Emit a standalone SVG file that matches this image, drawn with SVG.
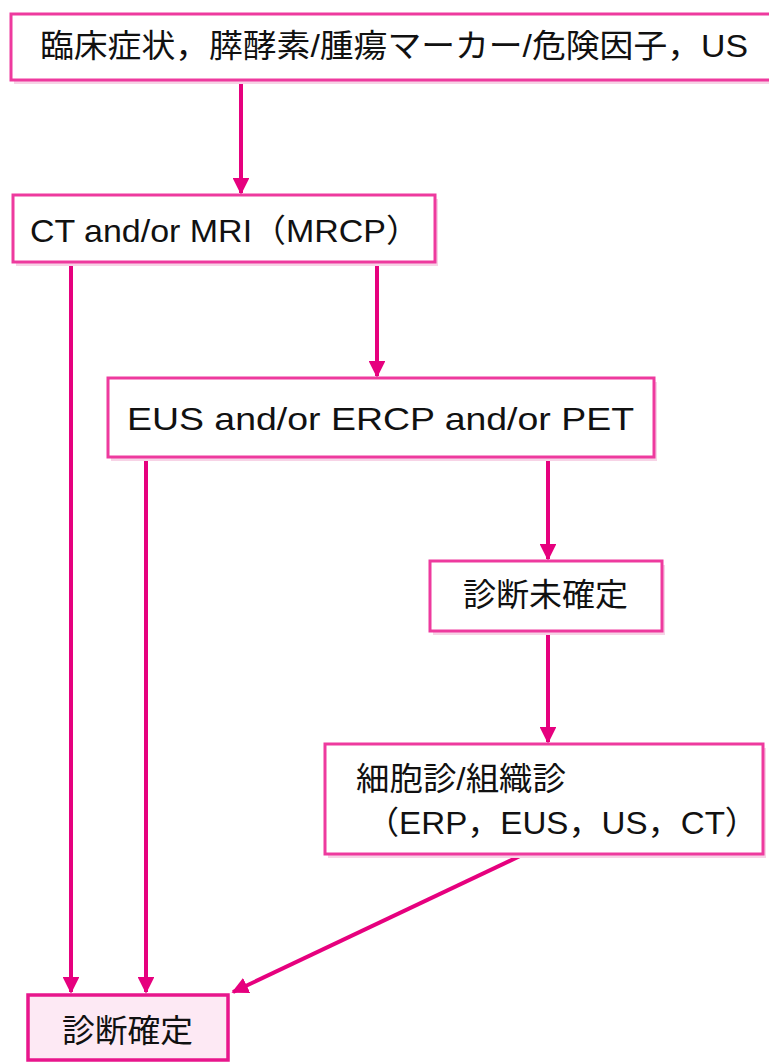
<svg xmlns="http://www.w3.org/2000/svg" width="769" height="1063" viewBox="0 0 769 1063">
<defs>
<style>
.box{fill:#fff;stroke:#ee3a9e;stroke-width:3}
.fin{fill:#fde9f4;stroke:#e8168c;stroke-width:3.5}
.sh{fill:#f7d3e6}
.t{font-family:"Liberation Sans","Noto Sans CJK JP",sans-serif;font-size:32px;fill:#111}
.c{stroke:#e6007e;stroke-width:4;fill:none}
</style>
<marker id="ah" viewBox="0 0 10 10" refX="9" refY="5" markerWidth="4.2" markerHeight="4.2" orient="auto" markerUnits="strokeWidth">
<path d="M0,0 L10,5 L0,10 z" fill="#e6007e"/>
</marker>
</defs>
<rect width="769" height="1063" fill="#fff"/>
<g id="connectors">
<line class="c" x1="241" y1="81" x2="241" y2="193" marker-end="url(#ah)"/>
<line class="c" x1="71" y1="263" x2="71" y2="992" marker-end="url(#ah)"/>
<line class="c" x1="377" y1="263" x2="377" y2="376" marker-end="url(#ah)"/>
<line class="c" x1="146" y1="458" x2="146" y2="992" marker-end="url(#ah)"/>
<line class="c" x1="548" y1="458" x2="548" y2="559" marker-end="url(#ah)"/>
<line class="c" x1="548" y1="632" x2="548" y2="742" marker-end="url(#ah)"/>
<line class="c" x1="520" y1="856" x2="233" y2="992" marker-end="url(#ah)"/>
</g>
<g id="n1">
<rect class="sh" x="14" y="18" width="770" height="66"/>
<rect class="box" x="11" y="14" width="770" height="66"/>
<text class="t" x="40" y="57" font-size="30" textLength="708" lengthAdjust="spacingAndGlyphs">臨床症状，膵酵素/腫瘍マーカー/危険因子，US</text>
</g>
<g id="n2">
<rect class="sh" x="16" y="199" width="422" height="67"/>
<rect class="box" x="13" y="195" width="422" height="67"/>
<text class="t" x="30" y="242" font-size="35" textLength="390" lengthAdjust="spacingAndGlyphs">CT and/or MRI（MRCP）</text>
</g>
<g id="n3">
<rect class="sh" x="111" y="382" width="546" height="79"/>
<rect class="box" x="108" y="378" width="546" height="79"/>
<text class="t" x="127" y="430" font-size="37" textLength="507" lengthAdjust="spacingAndGlyphs">EUS and/or ERCP and/or PET</text>
</g>
<g id="n4">
<rect class="sh" x="433" y="565" width="232" height="70"/>
<rect class="box" x="430" y="561" width="232" height="70"/>
<text class="t" x="463" y="606" textLength="165" lengthAdjust="spacingAndGlyphs">診断未確定</text>
</g>
<g id="n5">
<rect class="sh" x="328" y="748" width="438" height="110"/>
<rect class="box" x="325" y="744" width="438" height="110"/>
<text class="t" x="356" y="790" textLength="210" lengthAdjust="spacingAndGlyphs">細胞診/組織診</text>
<text class="t" x="366" y="834" textLength="392" lengthAdjust="spacingAndGlyphs">（ERP，EUS，US，CT）</text>
</g>
<g id="n6">
<rect class="fin" x="28" y="995" width="200" height="65"/>
<text class="t" x="62" y="1042" font-size="33" textLength="131" lengthAdjust="spacingAndGlyphs">診断確定</text>
</g>
</svg>
